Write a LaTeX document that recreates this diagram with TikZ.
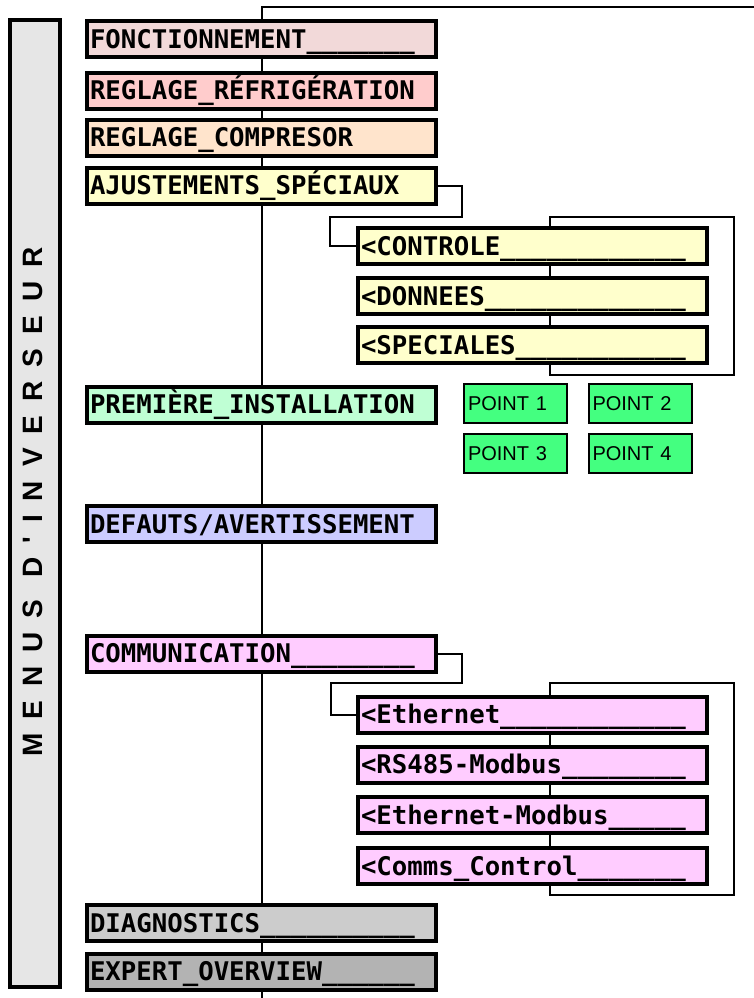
\documentclass[tikz,border=0pt]{standalone}
\usepackage{fontspec}
\setmainfont{Liberation Sans}
\newfontfamily\boxfont{DejaVu Sans Mono}
\newfontfamily\labfont{Liberation Sans}[LetterSpace=50]
\usetikzlibrary{backgrounds}
\definecolor{cFonc}{HTML}{F2D9D9}
\definecolor{cRefr}{HTML}{FFCCCC}
\definecolor{cComp}{HTML}{FFE4CC}
\definecolor{cAjus}{HTML}{FFFFCC}
\definecolor{cPrem}{HTML}{BFFFD4}
\definecolor{cPoint}{HTML}{44FF80}
\definecolor{cDef}{HTML}{CCCCFF}
\definecolor{cCom}{HTML}{FFCCFF}
\definecolor{cDiag}{HTML}{CCCCCC}
\definecolor{cExp}{HTML}{B3B3B3}
\definecolor{cLeft}{HTML}{E6E6E6}
\tikzset{
  menubox/.style={draw=black, line width=4pt, text width=343pt, inner xsep=3pt, inner ysep=2pt,
    minimum height=36pt, text height=24pt, text depth=5.3pt, align=left,
    font=\boxfont\bfseries\fontsize{25.7}{28}\selectfont},
  pointbox/.style={draw=black, line width=2pt, fill=cPoint, text width=95pt, inner xsep=4pt,
    inner ysep=2pt, minimum height=39pt, align=left, text height=14.3pt, text depth=0pt,
    font=\fontsize{20}{22}\selectfont},
  conn/.style={draw=black, line width=2pt},
}
\begin{document}
\begin{tikzpicture}[x=1pt,y=-1pt]
\useasboundingbox (0,0) rectangle (754,998);
% left panel
\node[draw=black, line width=4pt, fill=cLeft, minimum width=50pt, minimum height=967pt, inner sep=0pt] (panel) at (35,503.5) {};
\node[rotate=90, inner sep=0pt, font=\labfont\bfseries\fontsize{28}{30}\selectfont] (lab) at (33,502) {MENUS D'INVERSEUR};
% main menu
\node[menubox, fill=cFonc] (fonc) at (261.5,39) {FONCTIONNEMENT\_\_\_\_\_\_\_};
\node[menubox, fill=cRefr] (refr) at (261.5,90.5) {REGLAGE\_RÉFRIGÉRATION};
\node[menubox, fill=cComp] (comp) at (261.5,137.5) {REGLAGE\_COMPRESOR};
\node[menubox, fill=cAjus] (ajus) at (261.5,185.5) {AJUSTEMENTS\_SPÉCIAUX};
\node[menubox, fill=cAjus] (ctrl) at (532.5,246) {<CONTROLE\_\_\_\_\_\_\_\_\_\_\_\_};
\node[menubox, fill=cAjus] (donn) at (532.5,296) {<DONNEES\_\_\_\_\_\_\_\_\_\_\_\_\_};
\node[menubox, fill=cAjus] (spec) at (532.5,345) {<SPECIALES\_\_\_\_\_\_\_\_\_\_\_};
\node[menubox, fill=cPrem] (prem) at (261.5,404.5) {PREMIÈRE\_INSTALLATION};
\node[pointbox] (p1) at (515.5,403.5) {POINT 1};
\node[pointbox] (p2) at (640,403.5) {POINT 2};
\node[pointbox] (p3) at (515.5,453) {POINT 3};
\node[pointbox] (p4) at (640,453) {POINT 4};
\node[menubox, fill=cDef] (def) at (261.5,524) {DEFAUTS/AVERTISSEMENT};
\node[menubox, fill=cCom] (com) at (261.5,653.5) {COMMUNICATION\_\_\_\_\_\_\_\_};
\node[menubox, fill=cCom] (eth) at (532.5,714.5) {<Ethernet\_\_\_\_\_\_\_\_\_\_\_\_};
\node[menubox, fill=cCom] (rs) at (532.5,764.5) {<RS485-Modbus\_\_\_\_\_\_\_\_};
\node[menubox, fill=cCom] (ethm) at (532.5,815) {<Ethernet-Modbus\_\_\_\_\_};
\node[menubox, fill=cCom] (cc) at (532.5,866) {<Comms\_Control\_\_\_\_\_\_\_};
\node[menubox, fill=cDiag] (diag) at (261.5,923) {DIAGNOSTICS\_\_\_\_\_\_\_\_\_\_};
\node[menubox, fill=cExp] (exp) at (261.5,971.5) {EXPERT\_OVERVIEW\_\_\_\_\_\_};
% connectors
\coordinate (trTop) at (262,7);
\coordinate (trRight) at (754,7);
\coordinate (trBot) at (262,998);
\coordinate (b1a) at (550,217);
\coordinate (b1b) at (734,375);
\coordinate (b2a) at (550,683);
\coordinate (b2b) at (734,895);
\begin{scope}[on background layer]
  \draw[conn] (trRight) -- (trTop) -- (trBot);
  \draw[conn] (b1a) rectangle (b1b);
  \draw[conn] (b2a) rectangle (b2b);
  \draw[conn] (ajus.east) -- ++(24,0) -- ++(0,31.5) -| ([xshift=-26pt]ctrl.west) -- (ctrl.west);
  \draw[conn] (com.east) -- ++(24,0) -- ++(0,29.5) -| ([xshift=-25pt]eth.west) -- (eth.west);
\end{scope}
\end{tikzpicture}
\end{document}
